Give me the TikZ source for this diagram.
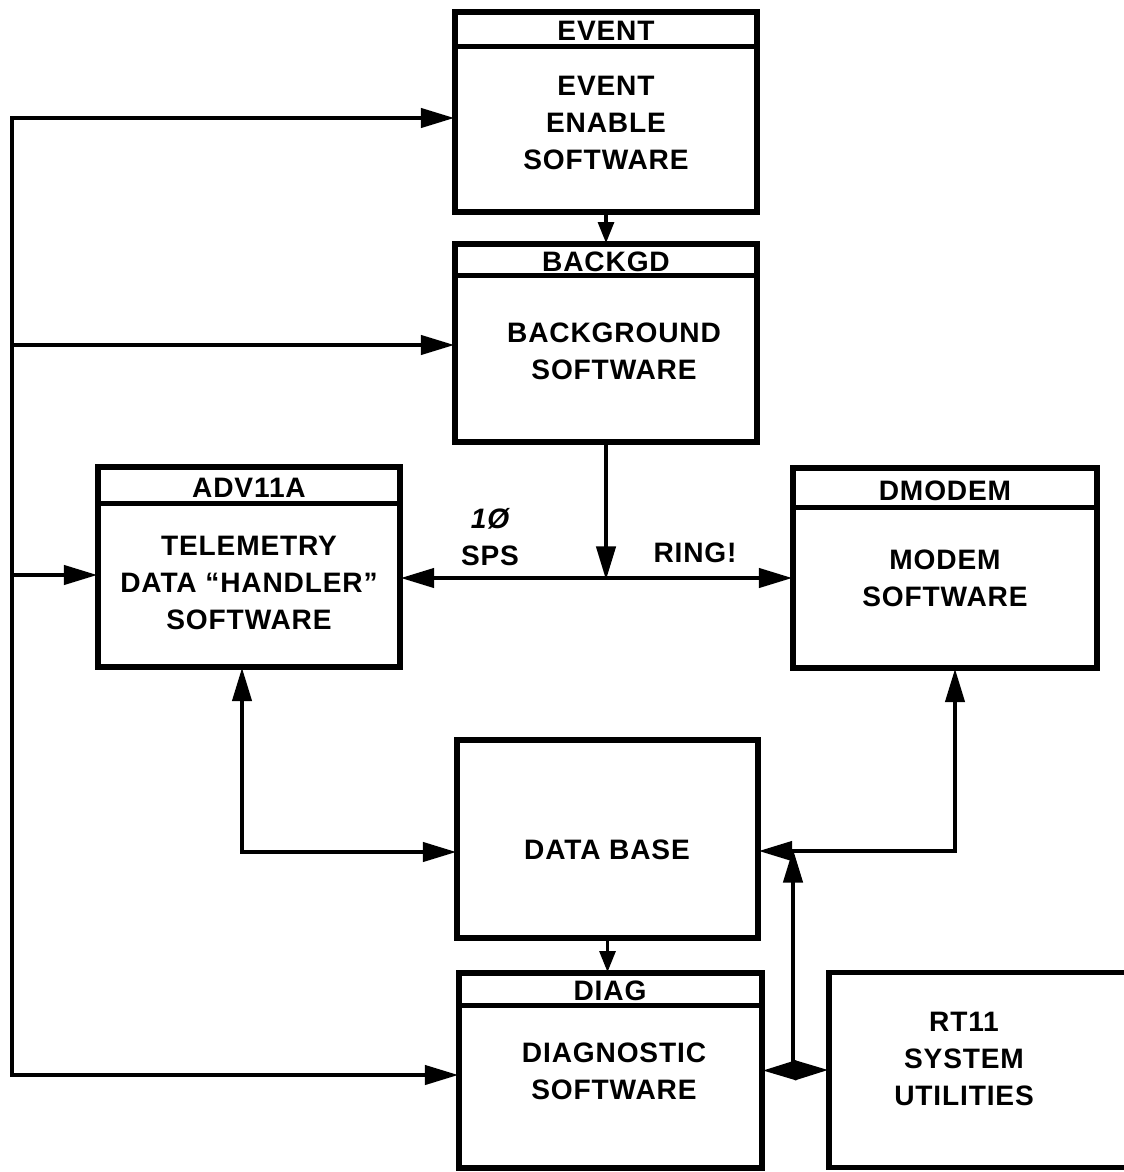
\documentclass[tikz,border=0pt]{standalone}
\usepackage{fontspec}
\newfontfamily\blockfont{Liberation Sans}[LetterSpace=3]
\usetikzlibrary{arrows.meta}

\begin{document}
\begin{tikzpicture}[x=0.02cm, y=-0.02cm,
    box/.style={draw, line width=3pt, inner sep=0pt},
    txt/.style={font=\blockfont\bfseries\fontsize{16}{21}\selectfont, align=center, inner sep=0pt},
    bar/.style={line width=3pt},
    wire/.style={line width=2pt},
    link/.style={wire, shorten >=-1pt, -{Triangle[length=19pt, width=11pt]}},
    both/.style={wire, shorten >=-1pt, shorten <=-1pt, {Triangle[length=19pt, width=11pt]}-{Triangle[length=19pt, width=11pt]}},
    short/.style={wire, shorten >=-1pt, -{Triangle[length=12pt, width=9pt]}}]

    \useasboundingbox (0,0) rectangle (1123,1172);

    \node[box, minimum width=6.04cm, minimum height=4cm] (event) at (606,112) {};
    \node[box, minimum width=6.04cm, minimum height=3.96cm] (backgd) at (606,343) {};
    \node[box, minimum width=6.04cm, minimum height=4cm] (adv) at (249,567) {};
    \node[box, minimum width=6.08cm, minimum height=4cm] (dmodem) at (945,568) {};
    \node[box, minimum width=6.02cm, minimum height=3.96cm] (dbase) at (607.5,839) {};
    \node[box, minimum width=6.06cm, minimum height=3.9cm] (diag) at (610.5,1070.5) {};
    \node[box, minimum width=5.96cm, minimum height=3.9cm] (rt) at (978,1070) {};

    \draw[bar] ([yshift=-0.74cm]event.north west) -- ([yshift=-0.74cm]event.north east);
    \draw[bar] ([yshift=-0.68cm]backgd.north west) -- ([yshift=-0.68cm]backgd.north east);
    \draw[bar] ([yshift=-0.78cm]adv.north west) -- ([yshift=-0.78cm]adv.north east);
    \draw[bar] ([yshift=-0.84cm]dmodem.north west) -- ([yshift=-0.84cm]dmodem.north east);
    \draw[bar] ([yshift=-0.7cm]diag.north west) -- ([yshift=-0.7cm]diag.north east);

    \node[txt] (eventT) at (606,31) {EVENT};
    \node[txt] (eventB) at (606,123) {EVENT\\ENABLE\\SOFTWARE};
    \node[txt] (backgdT) at (606,262) {BACKGD};
    \node[txt] (backgdB) at (614,351) {BACKGROUND\\SOFTWARE};
    \node[txt] (advT) at (249,488) {ADV11A};
    \node[txt] (advB) at (249,583) {TELEMETRY\\DATA “HANDLER”\\SOFTWARE};
    \node[txt] (dmodemT) at (945,491) {DMODEM};
    \node[txt] (dmodemB) at (945,578) {MODEM\\SOFTWARE};
    \node[txt] (dbaseB) at (607,850) {DATA BASE};
    \node[txt] (diagT) at (610,991) {DIAG};
    \node[txt] (diagB) at (614,1071) {DIAGNOSTIC\\SOFTWARE};
    \node[txt] (rtB) at (964,1059) {RT11\\SYSTEM\\UTILITIES};
    \node[txt] (sps) at (490,537) {\itshape 1Ø\\SPS};
    \node[txt] (ring) at (695,553) {RING!};

    \coordinate (b1) at (12,118);
    \coordinate (b2) at (12,345);
    \coordinate (b3) at (12,575);
    \coordinate (b4) at (12,1075);
    \coordinate (j) at (606,578);
    \coordinate (k) at (793,1070);

    \draw[both] (b1 -| event.west) -- (b1) -- (b4) -- (b4 -| diag.west);
    \draw[link] (b2) -- (b2 -| backgd.west);
    \draw[link] (b3) -- (b3 -| adv.west);

    \draw[short] (event.south) -- (backgd.north);
    \draw[link] (backgd.south) -- (j);
    \draw[both] (j -| adv.east) -- (j -| dmodem.west);

    \draw[both] ([xshift=-0.14cm]adv.south) |- ([yshift=-0.26cm]dbase.west);
    \draw[both] ([xshift=0.2cm]dmodem.south) |- ([yshift=-0.24cm]dbase.east);
    \draw[link] (k) -- (k |- 0,851);
    \draw[both] (diag.east) -- (rt.west);
    \draw[short] (dbase.south) -- (dbase.south |- diag.north);

    \end{tikzpicture}
\end{document}
